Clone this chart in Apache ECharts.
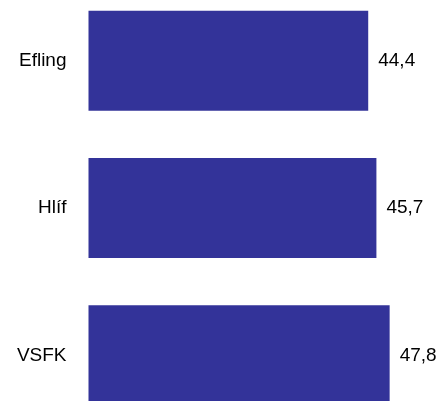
<!DOCTYPE html>
<html>
<head>
<meta charset="utf-8">
<style>html,body{margin:0;padding:0;background:#fff;}#c{width:438px;height:401px;}</style>
<script src="https://cdn.jsdelivr.net/npm/echarts@6/dist/echarts.min.js"></script>
</head>
<body>
<div id="c"></div>
<script>
var categories = ["Efling", "Hlíf", "VSFK"];
var values = [44.4, 45.7, 47.8];

var chart = echarts.init(document.getElementById('c'), null, {renderer: 'canvas'});
chart.setOption({
  animation: false,
  backgroundColor: '#ffffff',
  grid: {left: 88.5, top: -13, width: 315, height: 442, containLabel: false, outerBoundsMode: 'none'},
  xAxis: {type: 'value', min: 0, max: 50, show: false},
  yAxis: {
    type: 'category', data: categories, inverse: true,
    axisLine: {show: false}, axisTick: {show: false}, splitLine: {show: false},
    axisLabel: {margin: 22, color: '#000', fontSize: 19, fontFamily: '"Liberation Sans", Arial, sans-serif'}
  },
  series: [{
    type: 'bar', data: values, barWidth: 100,
    itemStyle: {color: '#333399'},
    label: {
      show: true, position: 'right', distance: 10, color: '#000', fontSize: 19,
      fontFamily: '"Liberation Sans", Arial, sans-serif',
      formatter: function (p) { return p.value.toFixed(1).replace('.', ','); }
    }
  }]
});
</script>
</body>
</html>
